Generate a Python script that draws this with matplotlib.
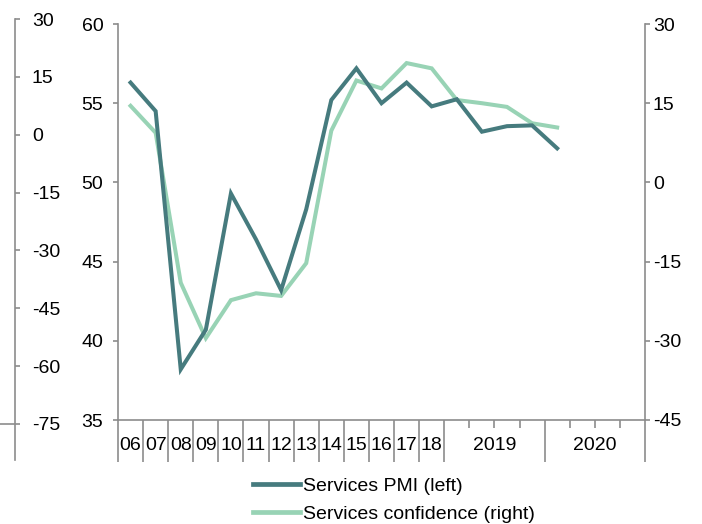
### services pmi and confidence chart
# redraws the two-series line chart with three value axes

# import helper libraries
import matplotlib
matplotlib.use('Agg')
import matplotlib.pyplot as plt
import numpy as np

# define chart data
pmi = [56.3, 54.5, 38.2, 40.7, 49.3, 46.4, 43.2, 48.3, 55.2, 57.2, 55.0,
       56.3, 54.8, 55.25, 53.2, 53.55, 53.6, 52.15]
confidence = [14.5, 9.4, -19.0, -29.5, -22.3, -21.0, -21.5, -15.3, 9.8,
              19.3, 17.8, 22.6, 21.6, 15.6, 15.0, 14.3, 11.2, 10.4]
annual_labels = ['06', '07', '08', '09', '10', '11', '12', '13', '14',
                 '15', '16', '17', '18']
year_labels = ['2019', '2020']
quarters_per_year = 4
left_ticks = [35, 40, 45, 50, 55, 60]
right_ticks = [-45, -30, -15, 0, 15, 30]
outer_ticks = [30, 15, 0, -15, -30, -45, -60, -75]

# define colours
dark = '#467b7e'
light = '#98d3b5'
grey = '#8c8c8c'

plt.rcParams['font.family'] = ['Liberation Sans', 'DejaVu Sans']
plt.rcParams['font.size'] = 14
plt.rcParams['axes.unicode_minus'] = False

# figure and main axes
fig = plt.figure(figsize = (7.02, 5.24), dpi = 100)
W, H = 702, 524
ax = fig.add_axes([118 / W, 1 - 420 / H, 527 / W, 396 / H])
ax2 = ax.twinx()

# category positions: 13 annual, then two years of quarters
n_cat = len(annual_labels) + quarters_per_year * len(year_labels)
x = np.arange(len(pmi)) + 0.5

ax.plot(x, pmi, color = dark, lw = 2.9, solid_joinstyle = 'miter', zorder = 3)
ax2.plot(x, confidence, color = light, lw = 2.9, solid_joinstyle = 'miter',
         zorder = 2)
ax.set_zorder(ax2.get_zorder() + 1)
ax.patch.set_visible(False)

# define graphical parameters
ax.set_xlim(0, n_cat)
ax.set_ylim(35, 60)
ax2.set_ylim(-45, 30)
ax.set_yticks(left_ticks)
ax2.set_yticks(right_ticks)

for a in (ax, ax2):
    for s in a.spines.values():
        s.set_color(grey)
        s.set_linewidth(1.2)
    a.spines['top'].set_visible(False)
ax.spines['right'].set_visible(False)
ax2.spines['left'].set_visible(False)
ax2.spines['bottom'].set_visible(False)

ax.tick_params(axis = 'y', direction = 'out', length = 3.6, width = 1.2,
               color = grey, pad = 7)
ax2.tick_params(axis = 'y', direction = 'out', length = 3.6, width = 1.2,
                color = grey, pad = 2)

# x axis separators between categories
n_ann = len(annual_labels)
major = list(range(n_ann + 1))
minor = []
for k in range(len(year_labels)):
    start = n_ann + k * quarters_per_year
    major.append(start + quarters_per_year)
    minor += [start + q for q in range(1, quarters_per_year)]
ax.set_xticks(major)
ax.set_xticks(minor, minor = True)
ax.set_xticklabels([])
ax.tick_params(axis = 'x', which = 'major', direction = 'out', length = 30,
               width = 1.2, color = grey)
ax.tick_params(axis = 'x', which = 'minor', direction = 'out', length = 6,
               width = 1.2, color = grey)

# category labels
tr = ax.get_xaxis_transform()
label_y = -(446 - 420) / 396
for i, lab in enumerate(annual_labels):
    ax.text(i + 0.5, label_y, lab, transform = tr, ha = 'center',
            va = 'center')
for k, lab in enumerate(year_labels):
    ax.text(n_ann + k * quarters_per_year + quarters_per_year / 2, label_y,
            lab, transform = tr, ha = 'center', va = 'center')

# outer left axis (same scale as the right one, set apart)
units_px = (outer_ticks[0] - outer_ticks[-1]) / (424 - 19)
ax3 = fig.add_axes([0, 1 - 460 / H, 15 / W, (460 - 19) / H])
ax3.set_ylim(outer_ticks[-1] - (460 - 424) * units_px, outer_ticks[0])
ax3.set_xlim(0, 1)
ax3.patch.set_visible(False)
for side in ('left', 'top', 'bottom'):
    ax3.spines[side].set_visible(False)
ax3.spines['right'].set_color(grey)
ax3.spines['right'].set_linewidth(1.2)
ax3.yaxis.tick_right()
ax3.set_xticks([])
ax3.set_yticks(outer_ticks)
ax3.tick_params(axis = 'y', direction = 'out', length = 3.6, width = 1.2,
                color = grey, pad = 8.5)
ax3.axhline(outer_ticks[-1], color = grey, lw = 1.2)

# legend
fig.legend(
    handles = ax.get_lines() + ax2.get_lines(),
    labels = ['Services PMI (left)', 'Services confidence (right)'],
    loc = 'upper left', bbox_to_anchor = (253 / W, 1 - 477 / H),
    frameon = False, borderpad = 0, borderaxespad = 0,
    handlelength = 2.4, handletextpad = 0.15, labelspacing = 0.55
)
for line in fig.legends[0].get_lines():
    line.set_linewidth(3.4)

fig.savefig('out.png', dpi = 100)
